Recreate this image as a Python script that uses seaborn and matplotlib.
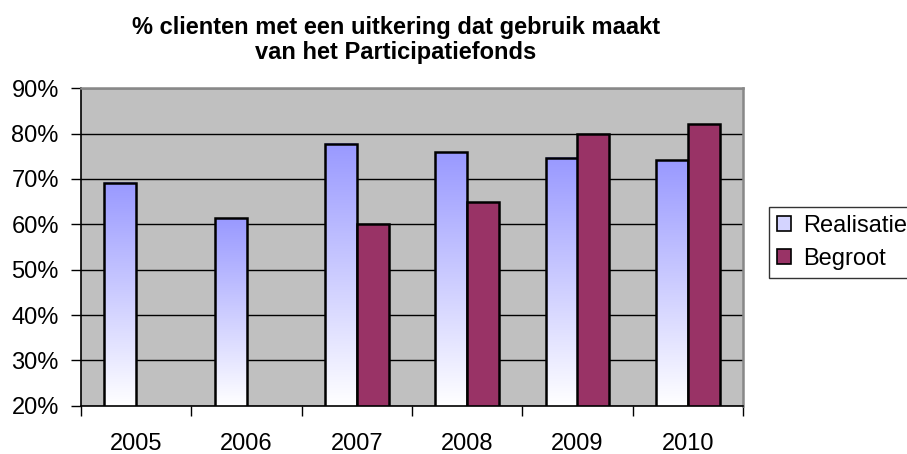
import numpy as np
import pandas as pd
import seaborn as sns
import matplotlib.pyplot as plt
from matplotlib.patches import Rectangle
from matplotlib.colors import LinearSegmentedColormap

years = ['2005', '2006', '2007', '2008', '2009', '2010']
realisatie = [69.2, 61.4, 77.8, 76.0, 74.7, 74.2]
begroot = [np.nan, np.nan, 60.0, 65.0, 80.0, 82.2]
series = ['Realisatie', 'Begroot']
y_ticks = [20, 30, 40, 50, 60, 70, 80, 90]

df = pd.DataFrame({
    'jaar': years * 2,
    'serie': [series[0]] * len(years) + [series[1]] * len(years),
    'waarde': realisatie + begroot,
})

sns.set_style('white')
plt.rcParams['font.family'] = ['Liberation Sans', 'DejaVu Sans']
plt.rcParams['text.color'] = 'black'
plt.rcParams['xtick.color'] = 'black'
plt.rcParams['ytick.color'] = 'black'

fig = plt.figure(figsize=(9.07, 4.54), dpi=100)
ax = fig.add_axes([81 / 907, 1 - 405.7 / 454, 662 / 907, (405.7 - 88.3) / 454])
ax.set_facecolor('#C0C0C0')

sns.barplot(data=df, x='jaar', y='waarde', hue='serie', order=years,
            hue_order=series, palette=['#9999FF', '#993366'], width=0.58,
            edgecolor='black', linewidth=1.8, saturation=1, legend=False, ax=ax)

ymin, ymax = y_ticks[0], y_ticks[-1]
ax.set_ylim(ymin, ymax)
ax.set_xlim(-0.5, len(years) - 0.5)
ax.set_yticks(y_ticks)
ax.set_yticklabels([f'{t}%' for t in y_ticks])
ax.yaxis.grid(True, color='black', linewidth=1)
ax.set_axisbelow(True)
ax.set_xlabel('')
ax.set_ylabel('')

# gradient fill for Realisatie bars: blue at the top, white at the bottom
cmap = LinearSegmentedColormap.from_list('grad', ['#FFFFFF', '#9999FF'])
grad = np.linspace(0, 1, 256).reshape(-1, 1)
for bar in ax.containers[0]:
    x0, w, h = bar.get_x(), bar.get_width(), bar.get_height()
    if np.isnan(h):
        continue
    top = bar.get_y() + h
    ax.imshow(grad, cmap=cmap, origin='lower', aspect='auto',
              extent=[x0, x0 + w, ymin, top], zorder=bar.get_zorder() - 0.01)
    bar.set_facecolor('none')
ax.set_xlim(-0.5, len(years) - 0.5)
ax.set_ylim(ymin, ymax)

for side in ['left', 'bottom']:
    ax.spines[side].set_color('black')
    ax.spines[side].set_linewidth(1.2)
for side in ['top', 'right']:
    ax.spines[side].set_color('#888888')
    ax.spines[side].set_linewidth(1.8)

ax.tick_params(axis='y', which='major', left=True, length=7, width=1,
               direction='out', pad=9, labelsize=17)
ax.tick_params(axis='x', which='major', length=0, pad=20, labelsize=17)
ax.set_xticks(np.arange(-0.5, len(years)), minor=True)
ax.tick_params(axis='x', which='minor', bottom=True, length=7, width=1,
               direction='out')

fig.text(396 / 907, 1 - 40 / 454,
         '% clienten met een uitkering dat gebruik maakt\nvan het Participatiefonds',
         ha='center', va='center', fontsize=17, fontweight='bold',
         linespacing=1.15)

handles = [Rectangle((0, 0), 1, 1, facecolor='#D4D4FF', edgecolor='black', linewidth=1.2),
           Rectangle((0, 0), 1, 1, facecolor='#993366', edgecolor='black', linewidth=1.2)]
leg = fig.legend(handles, series, loc='upper left',
                 bbox_to_anchor=(769 / 907, 1 - 207 / 454),
                 fontsize=17, frameon=True, fancybox=False, edgecolor='black',
                 handlelength=0.6, handleheight=0.6, handletextpad=0.5,
                 labelspacing=0.45, borderpad=0.35, borderaxespad=0)
leg.get_frame().set_linewidth(1)

fig.savefig('out.png', dpi=100)
